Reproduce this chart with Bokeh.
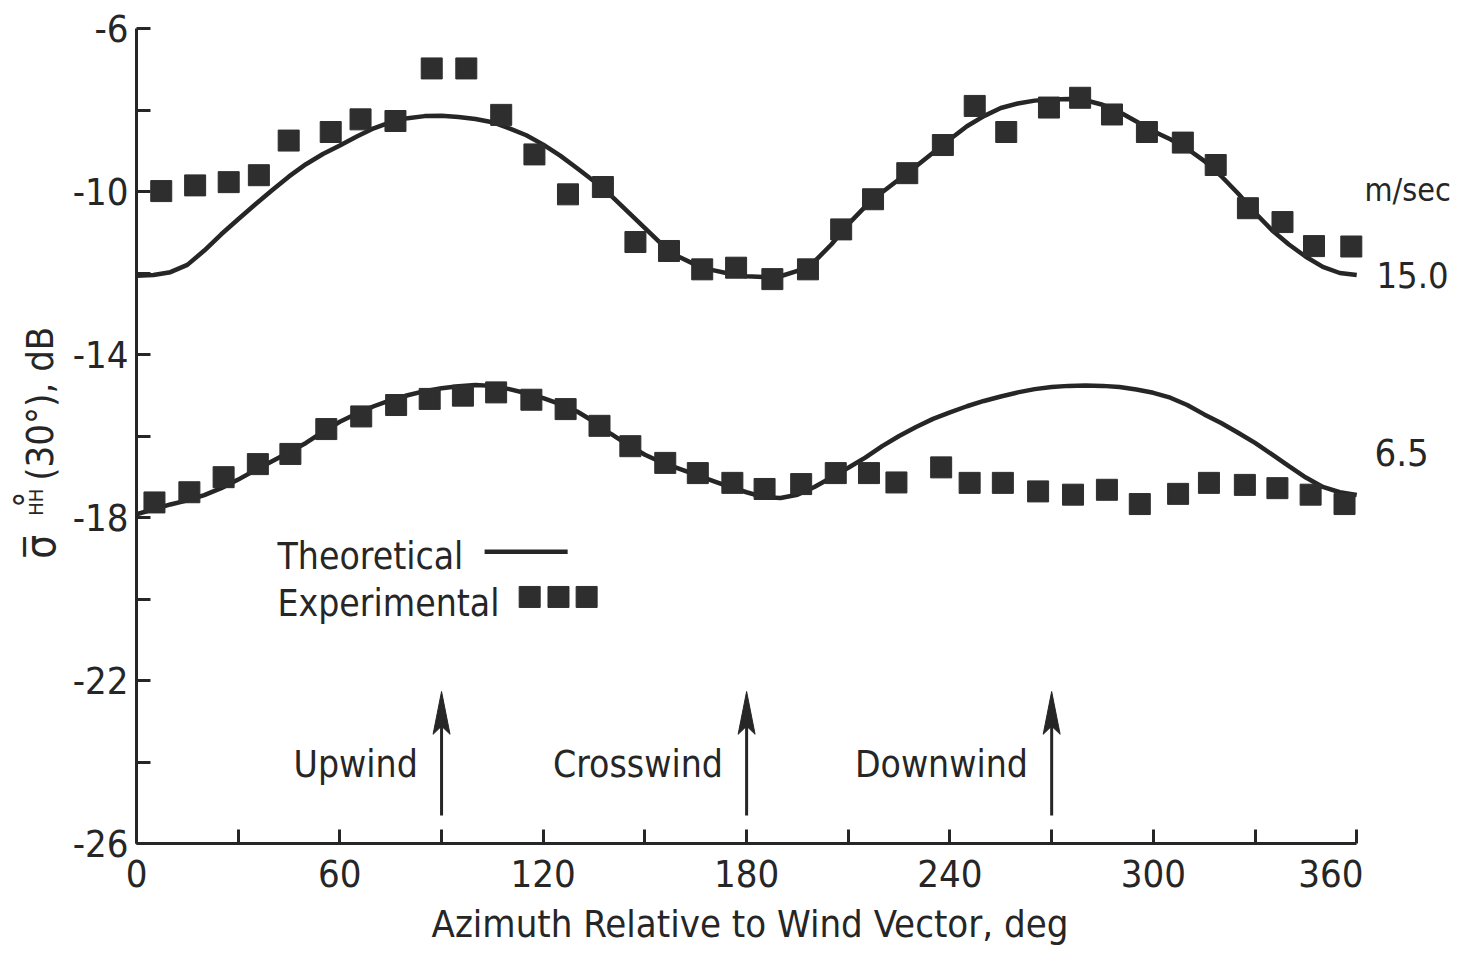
import math
from bokeh.plotting import figure
from bokeh.layouts import row
from bokeh.models import FixedTicker, Label, Range1d
from bokeh.embed import file_html
from bokeh.resources import INLINE

# ---------------- data ----------------
azimuth_theory = [0, 5, 10, 15, 20, 25, 30, 35, 40, 45, 50, 55, 60, 65, 70, 75, 80, 85, 90,
                  95, 100, 105, 110, 115, 120, 125, 130, 135, 140, 145, 150, 155, 160, 165,
                  170, 175, 180, 185, 190, 195, 200, 205, 210, 215, 220, 225, 230, 235, 240,
                  245, 250, 255, 260, 265, 270, 275, 280, 285, 290, 295, 300, 305, 310, 315,
                  320, 325, 330, 335, 340, 345, 350, 355, 360]

theory_15 = [-12.07, -12.05, -11.98, -11.80, -11.45, -11.05, -10.68, -10.32, -9.97, -9.63,
             -9.33, -9.08, -8.87, -8.65, -8.45, -8.30, -8.20, -8.15, -8.14, -8.17, -8.22,
             -8.30, -8.45, -8.62, -8.85, -9.12, -9.43, -9.75, -10.10, -10.50, -10.90, -11.30,
             -11.60, -11.80, -11.93, -12.02, -12.08, -12.10, -12.08, -11.95, -11.72, -11.30,
             -10.80, -10.37, -10.02, -9.70, -9.38, -9.05, -8.72, -8.40, -8.15, -7.95, -7.84,
             -7.77, -7.74, -7.73, -7.76, -7.87, -8.05, -8.28, -8.52, -8.72, -8.95, -9.25,
             -9.62, -10.05, -10.52, -10.95, -11.30, -11.60, -11.85, -12.00, -12.05]

theory_65 = [-17.92, -17.80, -17.68, -17.58, -17.45, -17.28, -17.07, -16.84, -16.62, -16.40,
             -16.17, -15.90, -15.65, -15.45, -15.27, -15.12, -15.00, -14.90, -14.83, -14.78,
             -14.75, -14.77, -14.85, -14.95, -15.07, -15.22, -15.40, -15.65, -15.95, -16.22,
             -16.46, -16.65, -16.80, -16.95, -17.10, -17.25, -17.38, -17.50, -17.52, -17.44,
             -17.25, -17.02, -16.78, -16.53, -16.25, -16.00, -15.78, -15.58, -15.42, -15.27,
             -15.14, -15.03, -14.93, -14.85, -14.80, -14.77, -14.76, -14.77, -14.80, -14.86,
             -14.94, -15.06, -15.24, -15.47, -15.68, -15.92, -16.17, -16.45, -16.74, -17.02,
             -17.25, -17.38, -17.45]

exp15_az = [7.3, 17.3, 27.2, 36.1, 44.9, 57.3, 66.1, 76.4, 87.1, 97.3, 107.6, 117.4,
            127.3, 137.6, 147.2, 157.1, 166.9, 176.9, 187.6, 198.1, 207.9, 217.3, 227.4,
            237.9, 247.3, 256.6, 269.2, 278.4, 287.8, 298.1, 308.7, 318.4, 327.9, 338.1,
            347.4, 358.4]
exp15_db = [-9.99, -9.85, -9.77, -9.60, -8.75, -8.54, -8.23, -8.27, -6.98, -6.98, -8.12,
            -9.09, -10.07, -9.89, -11.24, -11.46, -11.91, -11.87, -12.15, -11.91, -10.93,
            -10.19, -9.55, -8.86, -7.90, -8.54, -7.94, -7.70, -8.11, -8.54, -8.80, -9.35,
            -10.41, -10.75, -11.34, -11.35]

exp65_az = [5.3, 15.6, 25.7, 35.8, 45.4, 56.0, 66.3, 76.6, 86.5, 96.3, 106.1, 116.5,
            126.6, 136.6, 145.7, 156.0, 165.6, 175.8, 185.3, 196.1, 206.3, 216.1, 224.2,
            237.4, 245.8, 255.6, 266.0, 276.3, 286.3, 296.0, 307.3, 316.4, 327.0, 336.6,
            346.4, 356.4]
exp65_db = [-17.63, -17.38, -17.01, -16.69, -16.44, -15.83, -15.52, -15.24, -15.09, -15.01,
            -14.93, -15.11, -15.34, -15.75, -16.25, -16.66, -16.91, -17.15, -17.30, -17.18,
            -16.91, -16.91, -17.14, -16.77, -17.15, -17.15, -17.36, -17.44, -17.32, -17.67,
            -17.42, -17.15, -17.20, -17.28, -17.44, -17.67]

x_ticks = [0, 30, 60, 90, 120, 150, 180, 210, 240, 270, 300, 330, 360]
x_tick_labels = ["0", "", "60", "", "120", "", "180", "", "240", "", "300", "", "360"]
y_ticks = [-26, -24, -22, -20, -18, -16, -14, -12, -10, -8, -6]
y_tick_labels = ["-26", "", "-22", "", "-18", "", "-14", "", "-10", "", "-6"]

wind_names = ["Upwind", "Crosswind", "Downwind"]
wind_azimuths = [90, 180, 270]

speed_unit = "m/sec"
speed_names = ["15.0", "6.5"]
x_title = "Azimuth Relative to Wind Vector, deg"

# ---------------- styles ----------------
FONT = "DejaVu Sans Condensed, Liberation Sans, sans-serif"
INK = "#262626"
SQ = "#2e2e2e"
Y_RANGE = Range1d(-26, -6)
H, TOP, BOTTOM = 948, 28, 104
LEFT_STRIP, RIGHT_STRIP = 68, 88
PX_PER_DB = 816 / 20.0
BASE_FIX_PX = 12          # Label baseline correction (pixels)
DY = BASE_FIX_PX / PX_PER_DB


def label(fig, x, y, text, size, **kw):
    fig.add_layout(Label(x=x, y=y, text=text, text_font=FONT, text_font_size=size,
                         text_color=INK, text_baseline="alphabetic", **kw))


def strip(width):
    f = figure(width=width, height=H, x_range=Range1d(0, width), y_range=Y_RANGE,
               x_axis_type=None, y_axis_type=None, min_border_left=0, min_border_right=0,
               min_border_top=TOP, min_border_bottom=BOTTOM,
               output_backend="svg", toolbar_location=None)
    f.outline_line_color = None
    f.background_fill_color = "white"
    f.border_fill_color = "white"
    return f


p = figure(width=1227 + 136 - LEFT_STRIP, height=H,
           x_range=Range1d(0, 362), y_range=Y_RANGE,
           min_border_left=136 - LEFT_STRIP, min_border_top=TOP, min_border_right=0,
           min_border_bottom=BOTTOM,
           output_backend="svg", toolbar_location=None)
p.outline_line_color = None
p.background_fill_color = "white"
p.border_fill_color = "white"
p.xgrid.visible = False
p.ygrid.visible = False

for ax in (p.xaxis[0], p.yaxis[0]):
    ax.axis_line_width = 3
    ax.axis_line_color = INK
    ax.major_tick_line_width = 3
    ax.major_tick_line_color = INK
    ax.major_tick_in = 14
    ax.major_tick_out = 0
    ax.minor_tick_line_color = None
    ax.major_label_text_font = FONT
    ax.major_label_text_font_size = "38px"
    ax.major_label_text_color = INK

p.xaxis.ticker = FixedTicker(ticks=x_ticks)
p.xaxis.major_label_overrides = dict(zip(x_ticks, x_tick_labels))
p.xaxis.bounds = (0, 360)
p.xaxis.major_label_standoff = 16
p.xaxis.axis_label = x_title
p.xaxis.axis_label_text_font = FONT
p.xaxis.axis_label_text_font_style = "normal"
p.xaxis.axis_label_text_font_size = "38px"
p.xaxis.axis_label_text_color = INK
p.xaxis.axis_label_standoff = 12
p.yaxis.ticker = FixedTicker(ticks=y_ticks)
p.yaxis.major_label_overrides = dict(zip(y_ticks, y_tick_labels))
p.yaxis.bounds = (-26, -6)
p.yaxis.major_label_standoff = 8

# curves and points
p.line(azimuth_theory, theory_15, line_width=4.5, line_color=INK)
p.line(azimuth_theory, theory_65, line_width=4.5, line_color=INK)
p.scatter(exp15_az, exp15_db, marker="square", size=21, fill_color=SQ, line_color=SQ)
p.scatter(exp65_az, exp65_db, marker="square", size=21, fill_color=SQ, line_color=SQ)

# legend (label then key, as in the original)
label(p, 41.6, -19.26 + DY, "Theoretical", "37px")
label(p, 41.6, -20.41 + DY, "Experimental", "37px")
p.line([102.7, 127.2], [-18.84, -18.84], line_width=4.5, line_color=INK)
p.scatter([116.0, 124.5, 132.8], [-19.95] * 3, marker="square", size=21,
          fill_color=SQ, line_color=SQ)

# wind direction arrows
ARROW_BASE, ARROW_TIP = -25.31, -22.27
HEAD_HALF_W, HEAD_LEN, HEAD_NOTCH = 2.5, 1.05, 0.85
p.segment(x0=wind_azimuths, y0=[ARROW_BASE] * 3, x1=wind_azimuths,
          y1=[ARROW_TIP - 0.6] * 3, line_width=3, line_color=INK)
p.patches(xs=[[a, a - HEAD_HALF_W, a, a + HEAD_HALF_W] for a in wind_azimuths],
          ys=[[ARROW_TIP, ARROW_TIP - HEAD_LEN, ARROW_TIP - HEAD_NOTCH, ARROW_TIP - HEAD_LEN]
              for _ in wind_azimuths],
          fill_color=INK, line_color=INK, line_width=1)
for az, name in zip(wind_azimuths, wind_names):
    label(p, az - 7.0, -24.36 + DY, name, "37px", text_align="right")

# ---- left strip: y axis title (sigma-bar, superscript degree, subscript HH) ----
p0 = strip(LEFT_STRIP)
rot = math.pi / 2
dx0 = 1 + BASE_FIX_PX
label(p0, 53 - dx0, -19.01, "\u03c3\u0305", "42px", angle=rot)
label(p0, 39 - dx0, -17.76, "\u00b0", "36px", angle=rot)
label(p0, 48 - dx0, -17.96, "HH", "20px", angle=rot)
label(p0, 52 - dx0, -17.10, "(30\u00b0), dB", "38px", angle=rot)

# ---- right strip: wind speed labels ----
p2 = strip(RIGHT_STRIP)
label(p2, 1, -10.26 + DY, speed_unit, "32px")
label(p2, 13, -12.35 + DY, speed_names[0], "36px")
label(p2, 11, -16.69 + DY, speed_names[1], "38px")

layout = row(p0, p, p2)
open("out.html", "w").write(file_html(layout, INLINE))
